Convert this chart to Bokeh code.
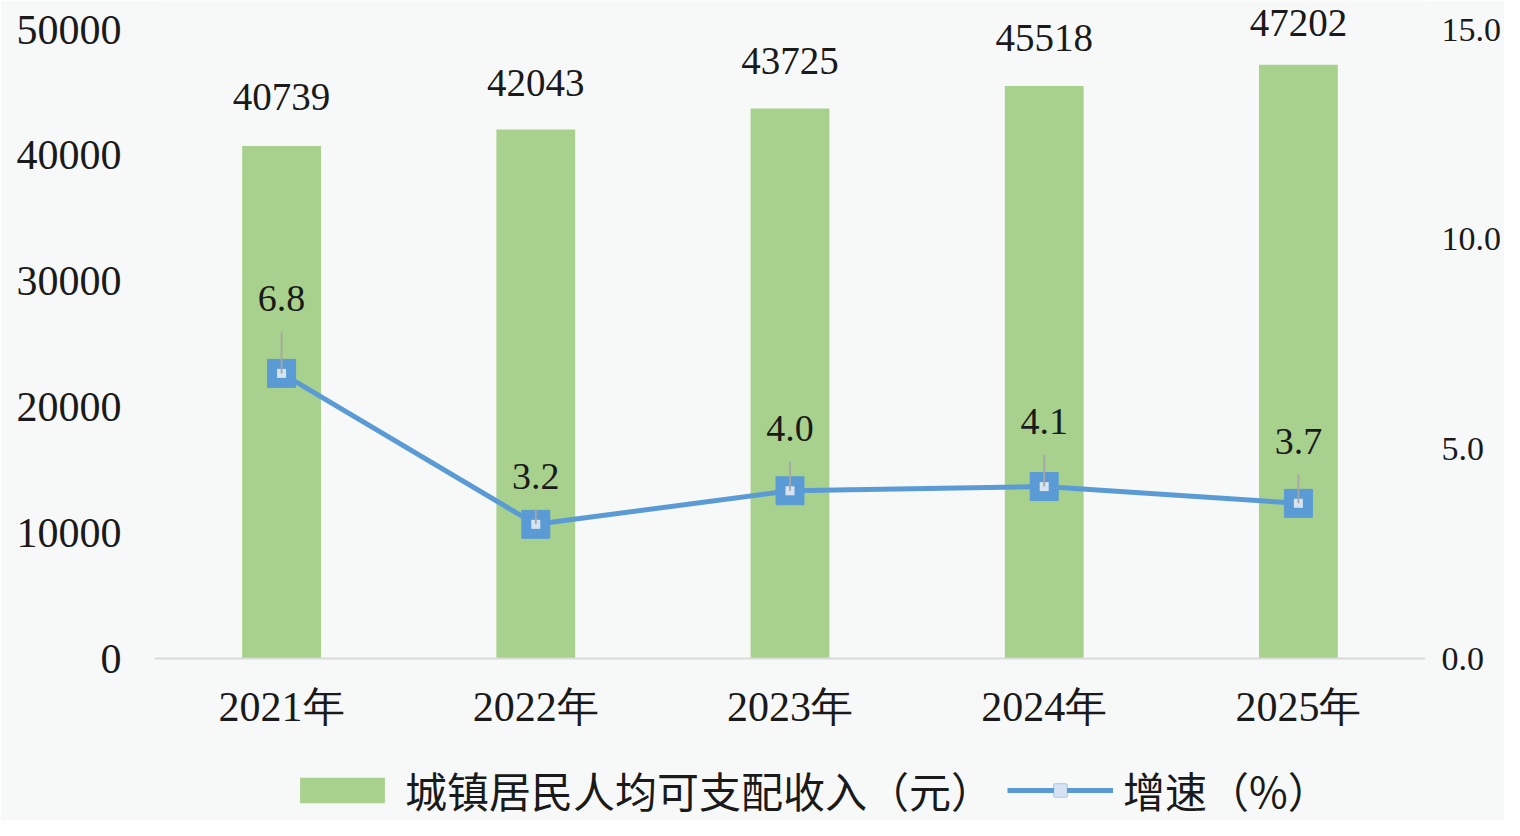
from bokeh.plotting import figure
from bokeh.models import (ColumnDataSource, Range1d, LinearAxis, FixedTicker,
                          NumeralTickFormatter, LabelSet, Legend, LegendItem, FactorRange)
from bokeh.core.properties import value
from bokeh.embed import file_html
from bokeh.resources import INLINE

# ---- data ----
years = ["2021年", "2022年", "2023年", "2024年", "2025年"]
income = [40739, 42043, 43725, 45518, 47202]
growth = [6.8, 3.2, 4.0, 4.1, 3.7]
income_ticks = [0, 10000, 20000, 30000, 40000, 50000]
growth_ticks = [0, 5, 10, 15]
income_name = "城镇居民人均可支配收入（元）"
growth_name = "增速（%）"

# ---- styles / layout ----
BG = "#f7f9f9"
BAR = "#a9d18e"
LINE = "#5b9bd5"
TXT = "#1a1a1a"
SERIF = "Liberation Serif"
W, H = 1504, 820
zero_px = 658            # pixel row of the zero line
px_per_1000 = 12.58      # left axis scale
px_per_pct = 41.93       # right axis scale
income_range = (-(H - zero_px) / px_per_1000 * 1000, zero_px / px_per_1000 * 1000)
growth_range = (-(H - zero_px) / px_per_pct, zero_px / px_per_pct)
growth_label_offsets = [75, 48, 62, 65, 62]   # px above point
income_label_offsets = [49, 47, 47, 48, 42]   # px above bar top
leader_gap = 33

src = ColumnDataSource(dict(
    year=years,
    income=income,
    income_txt=[str(v) for v in income],
    ioff=income_label_offsets,
    growth=growth,
    growth_txt=[f"{v:.1f}" for v in growth],
    goff=growth_label_offsets,
    lead_top=[g + max(o - leader_gap, 0) / px_per_pct for g, o in zip(growth, growth_label_offsets)],
))

p = figure(x_range=FactorRange(*years), y_range=Range1d(*income_range),
           width=W, height=H, output_backend="svg", toolbar_location=None,
           min_border_left=154, min_border_right=77, min_border_top=0, min_border_bottom=0,
           background_fill_color=BG, border_fill_color=BG, outline_line_color=None)
p.extra_y_ranges = {"right": Range1d(*growth_range)}

p.xgrid.visible = False
p.ygrid.visible = False

# left axis
ya = p.yaxis[0]
ya.ticker = FixedTicker(ticks=income_ticks)
ya.axis_line_color = None
ya.major_tick_line_color = None
ya.minor_tick_line_color = None
ya.major_label_text_font = SERIF
ya.major_label_text_font_size = "42px"
ya.major_label_text_color = TXT
ya.major_label_standoff = 27

# right axis
ra = LinearAxis(y_range_name="right", ticker=FixedTicker(ticks=growth_ticks),
                formatter=NumeralTickFormatter(format="0.0"))
ra.axis_line_color = None
ra.major_tick_line_color = None
ra.minor_tick_line_color = None
ra.major_label_text_font = SERIF
ra.major_label_text_font_size = "34px"
ra.major_label_text_color = TXT
ra.major_label_standoff = 10
p.add_layout(ra, "right")

# x axis, drawn on the zero line
xa = p.xaxis[0]
xa.fixed_location = 0
xa.axis_line_color = "#d9d9d9"
xa.axis_line_width = 2
xa.major_tick_line_color = None
xa.minor_tick_line_color = None
xa.major_label_text_font = SERIF
xa.major_label_text_font_size = "42px"
xa.major_label_text_color = TXT
xa.major_label_standoff = 19

bars = p.vbar(x="year", top="income", width=0.31, fill_color=BAR, line_color=None, source=src)
ln = p.line(x="year", y="growth", y_range_name="right", line_color=LINE, line_width=5, source=src)
mk = p.scatter(x="year", y="growth", y_range_name="right", marker="square", size=28,
               fill_color=LINE, line_color=LINE, source=src)
mk_in = p.scatter(x="year", y="growth", y_range_name="right", marker="square", size=9,
                  fill_color="#d6e4f2", line_color=None, source=src)
p.segment(x0="year", y0="growth", x1="year", y1="lead_top", y_range_name="right",
          line_color="#a6a6a6", line_width=1.8, source=src)

p.add_layout(LabelSet(x="year", y="income", text="income_txt", y_offset="ioff",
                      text_align="center", text_baseline="middle", text_font=value(SERIF),
                      text_font_size=value("39px"), text_color=TXT, source=src))
p.add_layout(LabelSet(x="year", y="growth", text="growth_txt", y_offset="goff", y_range_name="right",
                      text_align="center", text_baseline="middle", text_font=value(SERIF),
                      text_font_size=value("38px"), text_color=TXT, source=src))

legend = Legend(items=[LegendItem(label=income_name, renderers=[bars]),
                       LegendItem(label=growth_name, renderers=[ln, mk, mk_in])],
                location=(135, 0), orientation="horizontal",
                glyph_width=106, glyph_height=32, label_standoff=10, spacing=14,
                padding=0, margin=0, border_line_color=None, background_fill_alpha=0,
                label_text_font="Noto Sans CJK SC", label_text_font_size="42px",
                label_text_color=TXT)
p.add_layout(legend)

open("out.html", "w").write(file_html(p, INLINE))
